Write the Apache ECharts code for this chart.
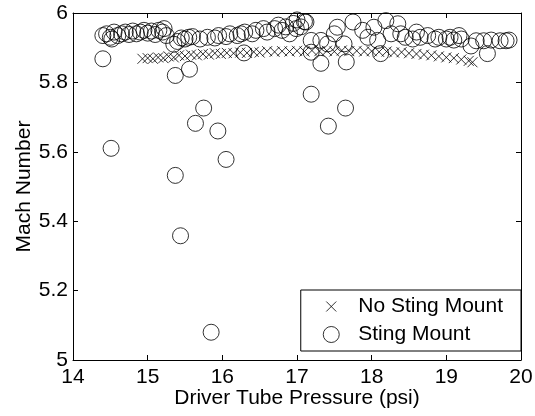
<!DOCTYPE html>
<html><head><meta charset="utf-8">
<script src="https://cdn.jsdelivr.net/npm/echarts@6/dist/echarts.min.js"></script>
<style>html,body{margin:0;padding:0;background:#fff}#c{width:535px;height:416px}</style>
</head><body><div id="c"></div>
<script>
const xTicks = [14, 15, 16, 17, 18, 19, 20];
const yTicks = [5, 5.2, 5.4, 5.6, 5.8, 6];
const seriesNames = ['No Sting Mount', 'Sting Mount'];

const noStingX = [14.93,15.0,15.07,15.14,15.21,15.28,15.35,15.42,15.5,15.58,15.66,15.74,15.82,15.9,15.98,16.06,16.15,16.24,16.33,16.42,16.5,16.6,16.7,16.8,16.9,17.0,17.1,17.2,17.3,17.4,17.5,17.6,17.7,17.8,17.9,18.0,18.1,18.2,18.3,18.4,18.5,18.6,18.7,18.8,18.9,19.0,19.1,19.2,19.3,19.35];
const noStingY = [5.868,5.870,5.868,5.872,5.870,5.875,5.872,5.878,5.876,5.880,5.878,5.882,5.880,5.884,5.882,5.885,5.884,5.886,5.885,5.888,5.886,5.890,5.888,5.890,5.889,5.891,5.889,5.892,5.890,5.891,5.889,5.892,5.890,5.891,5.889,5.890,5.888,5.889,5.886,5.887,5.884,5.882,5.880,5.878,5.875,5.872,5.870,5.866,5.862,5.858];

const stingX = [14.40,14.45,14.50,14.55,14.60,14.65,14.70,14.75,14.80,14.85,14.90,14.95,15.00,15.05,15.10,15.15,15.20,15.25,15.22,14.52,
  15.35,15.40,15.45,15.50,15.55,15.60,15.70,15.80,15.90,15.95,16.05,16.10,16.20,16.25,16.30,16.40,16.45,16.55,16.60,16.70,16.75,16.80,16.85,16.90,16.95,17.00,17.05,17.10,16.29,
  16.99,17.12,17.19,17.19,17.32,17.32,17.41,17.50,17.54,17.63,17.66,17.75,17.88,17.95,18.03,18.08,18.12,18.19,18.26,18.35,18.39,
  18.45,18.55,18.60,18.65,18.75,18.85,18.90,19.00,19.05,19.10,19.17,19.20,19.33,19.40,19.50,19.55,19.60,19.72,19.80,19.84,
  14.40,14.51,15.37,15.37,15.44,15.56,15.64,15.75,15.85,15.94,16.05,17.19,17.42,17.65];
const stingY = [5.935,5.940,5.930,5.945,5.935,5.940,5.945,5.938,5.948,5.940,5.945,5.950,5.942,5.948,5.938,5.950,5.945,5.935,5.955,5.925,
  5.910,5.918,5.928,5.925,5.930,5.932,5.925,5.930,5.928,5.935,5.932,5.940,5.935,5.940,5.945,5.940,5.950,5.955,5.945,5.955,5.965,5.950,5.960,5.940,5.970,5.980,5.960,5.975,5.885,
  5.955,5.974,5.921,5.887,5.921,5.855,5.911,5.940,5.959,5.911,5.859,5.974,5.950,5.930,5.959,5.921,5.883,5.978,5.940,5.969,5.940,
  5.930,5.925,5.945,5.930,5.935,5.925,5.930,5.925,5.930,5.922,5.935,5.925,5.905,5.920,5.920,5.883,5.922,5.920,5.920,5.922,
  5.868,5.610,5.820,5.532,5.358,5.838,5.682,5.726,5.080,5.660,5.578,5.766,5.674,5.726];

const noSting = noStingX.map((x, i) => [x, noStingY[i]]);
const sting = stingX.map((x, i) => [x, stingY[i]]);

const FONT = 'Liberation Sans, Arial, sans-serif';
const FS = 21;
const crossPath = 'path://M0,0L10,10M10,0L0,10';
const crossLegendPath = 'path://M-3,-3M0,0L10,10M10,0L0,10M13,13';
const hollow = {color: 'rgba(0,0,0,0)', borderColor: '#000', borderWidth: 1};

const chart = echarts.init(document.getElementById('c'), null, {renderer: 'canvas'});
chart.setOption({
  animation: false,
  backgroundColor: '#fff',
  grid: {left: 73, right: 14, top: 13, bottom: 56, containLabel: false, outerBoundsMode: 'none'},
  xAxis: [{
    type: 'value', min: xTicks[0], max: xTicks[xTicks.length - 1], interval: 1,
    name: 'Driver Tube Pressure (psi)', nameLocation: 'middle', nameGap: 28, nameMoveOverlap: false,
    nameTextStyle: {color: '#000', fontFamily: FONT, fontSize: FS},
    axisLine: {show: true, onZero: false, lineStyle: {color: '#000', width: 1}},
    axisTick: {show: true, inside: true, length: 5, lineStyle: {color: '#000'}},
    axisLabel: {color: '#000', fontFamily: FONT, fontSize: FS, margin: 7},
    splitLine: {show: false}
  }, {
    type: 'value', position: 'top', min: xTicks[0], max: xTicks[xTicks.length - 1], interval: 1,
    axisLine: {show: true, onZero: false, lineStyle: {color: '#000', width: 1}},
    axisTick: {show: true, inside: true, length: 5, lineStyle: {color: '#000'}},
    axisLabel: {show: false}, splitLine: {show: false}
  }],
  yAxis: [{
    type: 'value', min: yTicks[0], max: yTicks[yTicks.length - 1], interval: 0.2,
    name: 'Mach Number', nameLocation: 'middle', nameGap: 38, nameMoveOverlap: false,
    nameTextStyle: {color: '#000', fontFamily: FONT, fontSize: FS},
    axisLine: {show: true, onZero: false, lineStyle: {color: '#000', width: 1}},
    axisTick: {show: true, inside: true, length: 5, lineStyle: {color: '#000'}},
    axisLabel: {color: '#000', fontFamily: FONT, fontSize: FS, margin: 5,
      formatter: v => String(Math.round(v * 10) / 10)},
    splitLine: {show: false}
  }, {
    type: 'value', position: 'right', min: yTicks[0], max: yTicks[yTicks.length - 1], interval: 0.2,
    axisLine: {show: true, onZero: false, lineStyle: {color: '#000', width: 1}},
    axisTick: {show: true, inside: true, length: 5, lineStyle: {color: '#000'}},
    axisLabel: {show: false}, splitLine: {show: false}
  }],
  legend: {
    orient: 'vertical', right: 14, bottom: 65,
    backgroundColor: '#fff', borderColor: '#000', borderWidth: 1,
    padding: [6, 18, 6, 22], itemGap: 7, itemWidth: 16, itemHeight: 16,
    textStyle: {color: '#000', fontFamily: FONT, fontSize: FS, padding: [0, 0, 0, 14]},
    data: [
      {name: seriesNames[0], icon: crossLegendPath, itemStyle: hollow},
      {name: seriesNames[1], icon: 'circle', itemStyle: hollow}
    ]
  },
  series: [{
    name: seriesNames[0], type: 'scatter', data: noSting,
    symbol: crossPath, symbolSize: 10, itemStyle: hollow
  }, {
    name: seriesNames[1], type: 'scatter', data: sting,
    symbol: 'circle', symbolSize: 16, itemStyle: hollow
  }]
});
</script></body></html>
